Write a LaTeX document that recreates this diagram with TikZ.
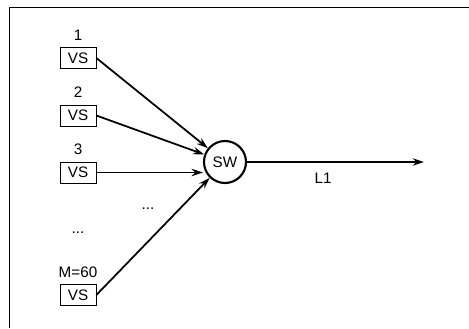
\documentclass[tikz,border=0pt]{standalone}
\usepackage{fontspec}
\setmainfont{Liberation Sans}
\usetikzlibrary{arrows.meta, positioning}

\begin{document}
\begin{tikzpicture}[
    x=0.03cm, y=-0.03cm,
    node distance=0.2cm,
    vsbox/.style={rectangle, draw, line width=0.6pt, minimum width=1.08cm, minimum height=0.63cm, inner sep=0pt, font=\fontsize{13}{15}\selectfont},
    tag/.style={inner sep=0pt, font=\fontsize{13}{15}\selectfont},
    switch/.style={circle, draw, line width=1.8pt, minimum size=1.26cm, inner sep=0pt, font=\fontsize{13}{15}\selectfont},
    arrow/.style={-{Stealth[length=3.4mm, width=2.2mm]}, line width=1.5pt}
]
\useasboundingbox (0,0) rectangle (469,328);

% frame
\draw[line width=0.8pt] (469,7) -- (9,7) -- (9,328);

\node[vsbox] (vs1) at (78,58) {VS};
\node[tag, above=of vs1] (n1) {1};
\node[vsbox] (vs2) at (78,115.5) {VS};
\node[tag, above=of vs2] (n2) {2};
\node[vsbox] (vs3) at (78,172.5) {VS};
\node[tag, above=of vs3] (n3) {3};
\node[vsbox] (vsm) at (78,295) {VS};
\node[tag, above=of vsm] (nm) {M=60};

\node[tag] (dots1) at (78,233) {...};
\node[tag] (dots2) at (148,209) {...};

\node[switch] (sw) at (225,162) {SW};
\coordinate (out) at (424,162);

\draw[arrow] (vs1.east) -- (sw);
\draw[arrow] (vs2.east) -- (sw);
\draw[arrow] (vs3.east) -- (vs3.east -| sw.west);
\draw[arrow] (vsm.east) -- (sw);
\draw[arrow] (sw) -- (out) node[pos=0.43, below=0.3cm, tag] (l1) {L1};

\end{tikzpicture}
\end{document}
